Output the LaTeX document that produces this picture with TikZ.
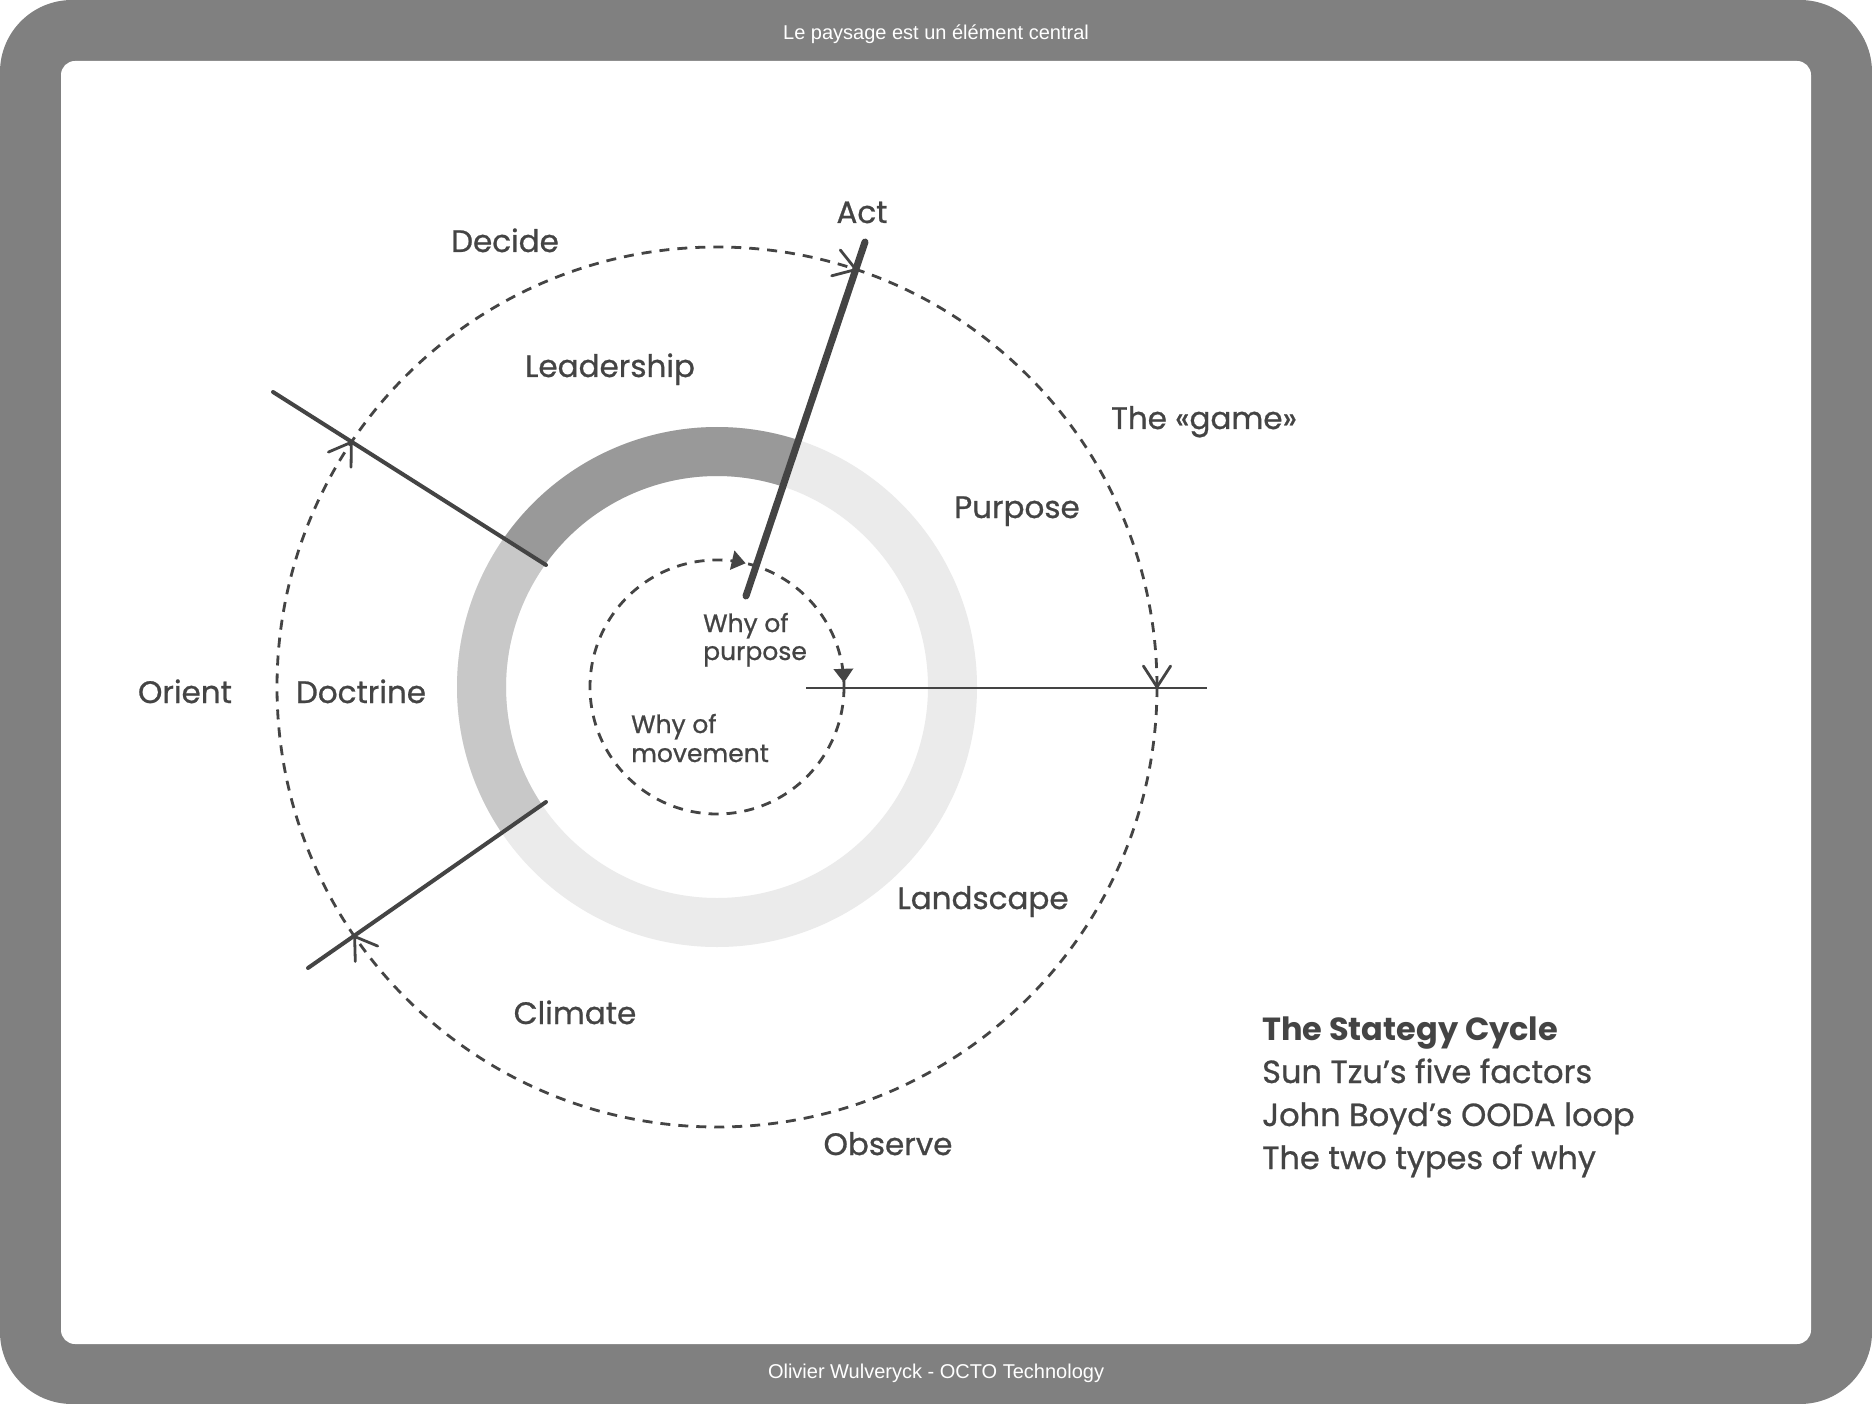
\documentclass[tikz,border=0pt]{standalone}
\usepackage{fontspec}
\setmainfont{Poppins}
\newfontfamily\lblfont[RawFeature={embolden=0.8}]{Poppins}
\newfontfamily\framefont{Liberation Sans}
\usetikzlibrary{calc}
\definecolor{framegray}{HTML}{808080}
\definecolor{ink}{HTML}{444444}
\definecolor{ringA}{HTML}{999999}
\definecolor{ringB}{HTML}{C8C8C8}
\definecolor{ringC}{HTML}{EBEBEB}
\tikzset{
  lbl/.style={text=ink, font=\lblfont\fontsize{31}{37}\selectfont, anchor=base, inner sep=0pt},
  smalllbl/.style={text=ink, font=\lblfont\fontsize{25}{29}\selectfont, anchor=base west, inner sep=0pt},
  legend/.style={text=ink, font=\lblfont\fontsize{32}{38}\selectfont, anchor=base west, inner sep=0pt},
  framelbl/.style={text=white, font=\framefont\fontsize{20}{24}\selectfont, anchor=base, inner sep=0pt},
  dashcircle/.style={draw=ink, line width=2.8pt, dash pattern=on 10pt off 8pt},
  headline/.style={draw=ink, line width=2.8pt, line cap=round, line join=round},
  thickline/.style={draw=ink, line width=7pt, line cap=round},
  midline/.style={draw=ink, line width=4pt, line cap=round},
  thinline/.style={draw=ink, line width=2.5pt},
  ringpart/.style={line width=49pt, samples=90, variable=\t}
}
\begin{document}
\begin{tikzpicture}[x=1pt,y=-1pt]
\useasboundingbox (0,0) rectangle (1872,1404);
\fill[white] (0,0) rectangle (1872,1404);
\fill[framegray, rounded corners=72pt] (0,0) rectangle (1872,1404);
\fill[white, rounded corners=14pt] (61,61) rectangle (1811,1344);

\node[framelbl] (title) at (936,40) {Le paysage est un élément central};
\node[framelbl] (footer) at (936,1378) {Olivier Wulveryck - OCTO Technology};

\coordinate (C) at (717,687);

% ring
\draw[ringC, line width=49pt] (C) circle[radius=235.5];
\draw[ringB, ringpart, domain=145.8:215.3] plot ({717+235.5*cos(\t)},{687+235.5*sin(\t)});
\draw[ringA, ringpart, domain=-144.7:-71.7] plot ({717+235.5*cos(\t)},{687+235.5*sin(\t)});

% dashed circles
\draw[dashcircle] (C) circle[radius=440];
\draw[dashcircle] (C) circle[radius=127];

% lines
\coordinate (actTop) at (865,242);
\coordinate (actEnd) at (746,596);
\coordinate (leadOut) at (273,392);
\coordinate (leadIn) at (546,565);
\coordinate (climOut) at (308,968);
\coordinate (climIn) at (546,802);
\coordinate (hStart) at (806,688);
\coordinate (hEnd) at (1207,688);
\draw[midline] (leadOut) -- (leadIn);
\draw[midline] (climOut) -- (climIn);
\draw[thinline] (hStart) -- (hEnd);
\draw[thickline] (actTop) -- (actEnd);

% open arrowheads on outer circle
\foreach \n/\a in {xAct/-71.6, xLead/-146.2, xClim/145.45, xRight/0} {
  \coordinate (\n) at ($(C)+(\a:440)$);
  \draw[headline] ($(\n)+({\a-90+33}:25)$) -- (\n) -- ($(\n)+({\a-90-33}:25)$);
}

% filled triangles on inner circle
\foreach \n/\a in {tTop/-77, tRight/-2} {
  \coordinate (\n) at ($(C)+(\a:127)$);
  \fill[ink] (\n) -- ($(\n)+({\a-90+36}:17)$) -- ($(\n)+({\a-90-36}:17)$) -- cycle;
}

% labels
\node[lbl] (decide) at (505,252) {Decide};
\node[lbl] (act) at (862,223) {Act};
\node[lbl] (leader) at (610,377) {Leadership};
\node[lbl] (game) at (1204,429) {The «game»};
\node[lbl] (purpose) at (1017,518) {Purpose};
\node[lbl] (orient) at (185,703) {Orient};
\node[lbl] (doctrine) at (361,703) {Doctrine};
\node[lbl] (landscape) at (983,909) {Landscape};
\node[lbl] (climate) at (575,1024) {Climate};
\node[lbl] (observe) at (888,1155) {Observe};

\node[smalllbl] (whyp1) at (703,632) {Why of};
\node[smalllbl] (whyp2) at (703,660) {purpose};
\node[smalllbl] (whym1) at (631,733) {Why of};
\node[smalllbl] (whym2) at (631,762) {movement};

% legend
\node[legend, font=\fontsize{32}{38}\selectfont\bfseries] (lg1) at (1262,1040) {The Stategy Cycle};
\node[legend] (lg2) at (1262,1083) {Sun Tzu’s five factors};
\node[legend] (lg3) at (1262,1126) {John Boyd’s OODA loop};
\node[legend] (lg4) at (1262,1169) {The two types of why};
\end{tikzpicture}
\end{document}
